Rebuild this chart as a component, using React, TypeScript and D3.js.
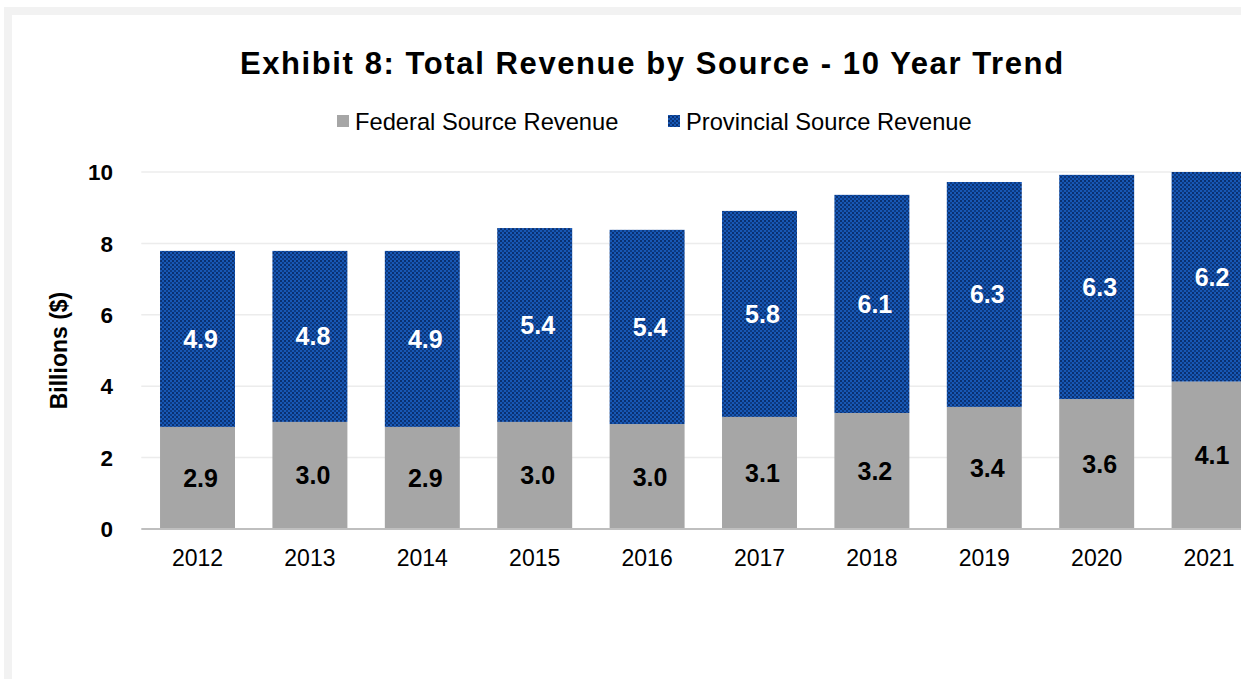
import { useEffect, useRef } from "react";
import * as d3 from "d3";

const years = ["2012", "2013", "2014", "2015", "2016", "2017", "2018", "2019", "2020", "2021"];
const federal = [2.86, 3.0, 2.86, 3.0, 2.94, 3.14, 3.25, 3.42, 3.64, 4.13];
const provincial = [4.93, 4.79, 4.93, 5.43, 5.44, 5.77, 6.11, 6.3, 6.28, 6.2];
const federalLabels = ["2.9", "3.0", "2.9", "3.0", "3.0", "3.1", "3.2", "3.4", "3.6", "4.1"];
const provincialLabels = ["4.9", "4.8", "4.9", "5.4", "5.4", "5.8", "6.1", "6.3", "6.3", "6.2"];
const yTicks = [0, 2, 4, 6, 8, 10];
const seriesNames = ["Federal Source Revenue", "Provincial Source Revenue"];

const W = 1241;
const H = 679;
const FONT = "'Liberation Sans', Arial, sans-serif";

export default function App() {
  const svgRef = useRef<SVGSVGElement | null>(null);

  useEffect(() => {
    if (!svgRef.current) return;
    const svg = d3.select(svgRef.current);
    svg.selectAll("*").remove();

    const plotLeft = 141.3;
    const plotRight = 1265.3;
    const plotTop = 172;
    const plotBottom = 529;

    // frame
    svg.append("rect").attr("x", 4).attr("y", 7).attr("width", W).attr("height", H).attr("fill", "#f2f2f2");
    svg.append("rect").attr("x", 12).attr("y", 15).attr("width", W).attr("height", H).attr("fill", "#ffffff");

    const defs = svg.append("defs");
    const pat = defs
      .append("pattern")
      .attr("id", "provDots")
      .attr("patternUnits", "userSpaceOnUse")
      .attr("width", 4)
      .attr("height", 4);
    pat.append("rect").attr("width", 4).attr("height", 4).attr("fill", "#1858b5");
    pat.append("rect").attr("x", 0).attr("y", 0).attr("width", 2).attr("height", 2).attr("fill", "#0a3070");
    pat.append("rect").attr("x", 2).attr("y", 2).attr("width", 2).attr("height", 2).attr("fill", "#0c3a82");

    defs
      .append("clipPath")
      .attr("id", "plotClip")
      .append("rect")
      .attr("x", plotLeft)
      .attr("y", plotTop)
      .attr("width", plotRight - plotLeft)
      .attr("height", plotBottom - plotTop);

    const x = d3
      .scaleBand<string>()
      .domain(years)
      .range([plotLeft, plotRight])
      .paddingInner(0.333)
      .paddingOuter(0.1667);

    const y = d3.scaleLinear().domain([0, 10]).range([plotBottom, plotTop]);

    // title
    svg
      .append("text")
      .attr("x", 652.3)
      .attr("y", 73.5)
      .attr("text-anchor", "middle")
      .attr("font-family", FONT)
      .attr("font-weight", "bold")
      .attr("font-size", 31)
      .attr("letter-spacing", 1.6)
      .attr("fill", "#000")
      .text("Exhibit 8: Total Revenue by Source - 10 Year Trend");

    // legend
    const legendX = [337, 668];
    const legendFill = ["#a6a6a6", "url(#provDots)"];
    seriesNames.forEach((name, i) => {
      svg
        .append("rect")
        .attr("x", legendX[i])
        .attr("y", 115)
        .attr("width", 12)
        .attr("height", 12)
        .attr("fill", legendFill[i]);
      svg
        .append("text")
        .attr("x", legendX[i] + 18)
        .attr("y", 129.5)
        .attr("font-family", FONT)
        .attr("font-size", 23.7)
        .attr("fill", "#000")
        .text(name);
    });

    // gridlines
    svg
      .append("g")
      .selectAll("line")
      .data(yTicks.filter((t) => t > 0))
      .enter()
      .append("line")
      .attr("x1", plotLeft)
      .attr("x2", W)
      .attr("y1", (d) => y(d))
      .attr("y2", (d) => y(d))
      .attr("stroke", "#ececec")
      .attr("stroke-width", 1.5);

    // y tick labels
    svg
      .append("g")
      .selectAll("text")
      .data(yTicks)
      .enter()
      .append("text")
      .attr("x", 113)
      .attr("y", (d) => y(d))
      .attr("dy", "0.36em")
      .attr("text-anchor", "end")
      .attr("font-family", FONT)
      .attr("font-weight", "bold")
      .attr("font-size", 22.5)
      .attr("fill", "#000")
      .text((d) => String(d));

    // y title
    svg
      .append("text")
      .attr("transform", `translate(67,${(plotTop + plotBottom) / 2}) rotate(-90)`)
      .attr("text-anchor", "middle")
      .attr("font-family", FONT)
      .attr("font-weight", "bold")
      .attr("font-size", 23)
      .attr("fill", "#000")
      .text("Billions ($)");

    // bars
    const bars = svg.append("g").attr("clip-path", "url(#plotClip)");
    years.forEach((yr, i) => {
      const bx = x(yr) ?? 0;
      const bw = x.bandwidth();
      bars
        .append("rect")
        .attr("x", bx)
        .attr("width", bw)
        .attr("y", y(federal[i]))
        .attr("height", y(0) - y(federal[i]))
        .attr("fill", "#a6a6a6");
      bars
        .append("rect")
        .attr("x", bx)
        .attr("width", bw)
        .attr("y", y(federal[i] + provincial[i]))
        .attr("height", y(federal[i]) - y(federal[i] + provincial[i]))
        .attr("fill", "url(#provDots)");
    });

    // axis line
    svg
      .append("line")
      .attr("x1", plotLeft)
      .attr("x2", W)
      .attr("y1", plotBottom)
      .attr("y2", plotBottom)
      .attr("stroke", "#bfbfbf")
      .attr("stroke-width", 2);

    // data labels
    years.forEach((yr, i) => {
      const cx = (x(yr) ?? 0) + x.bandwidth() / 2 + 3;
      const fedMid = (y(0) + y(federal[i])) / 2;
      const topY = Math.max(y(federal[i] + provincial[i]), plotTop);
      const provMid = (y(federal[i]) + topY) / 2;
      svg
        .append("text")
        .attr("x", cx)
        .attr("y", fedMid)
        .attr("dy", "0.36em")
        .attr("text-anchor", "middle")
        .attr("font-family", FONT)
        .attr("font-weight", "bold")
        .attr("font-size", 25)
        .attr("fill", "#000")
        .text(federalLabels[i]);
      svg
        .append("text")
        .attr("x", cx)
        .attr("y", provMid)
        .attr("dy", "0.36em")
        .attr("text-anchor", "middle")
        .attr("font-family", FONT)
        .attr("font-weight", "bold")
        .attr("font-size", 25)
        .attr("fill", "#fff")
        .text(provincialLabels[i]);
    });

    // x tick labels
    svg
      .append("g")
      .selectAll("text")
      .data(years)
      .enter()
      .append("text")
      .attr("x", (d) => (x(d) ?? 0) + x.bandwidth() / 2)
      .attr("y", 566)
      .attr("text-anchor", "middle")
      .attr("font-family", FONT)
      .attr("font-size", 23)
      .attr("fill", "#000")
      .text((d) => d);
  }, []);

  return (
    <svg
      ref={svgRef}
      width={W}
      height={H}
      style={{ position: "absolute", left: 0, top: 0, display: "block" }}
    ></svg>
  );
}
